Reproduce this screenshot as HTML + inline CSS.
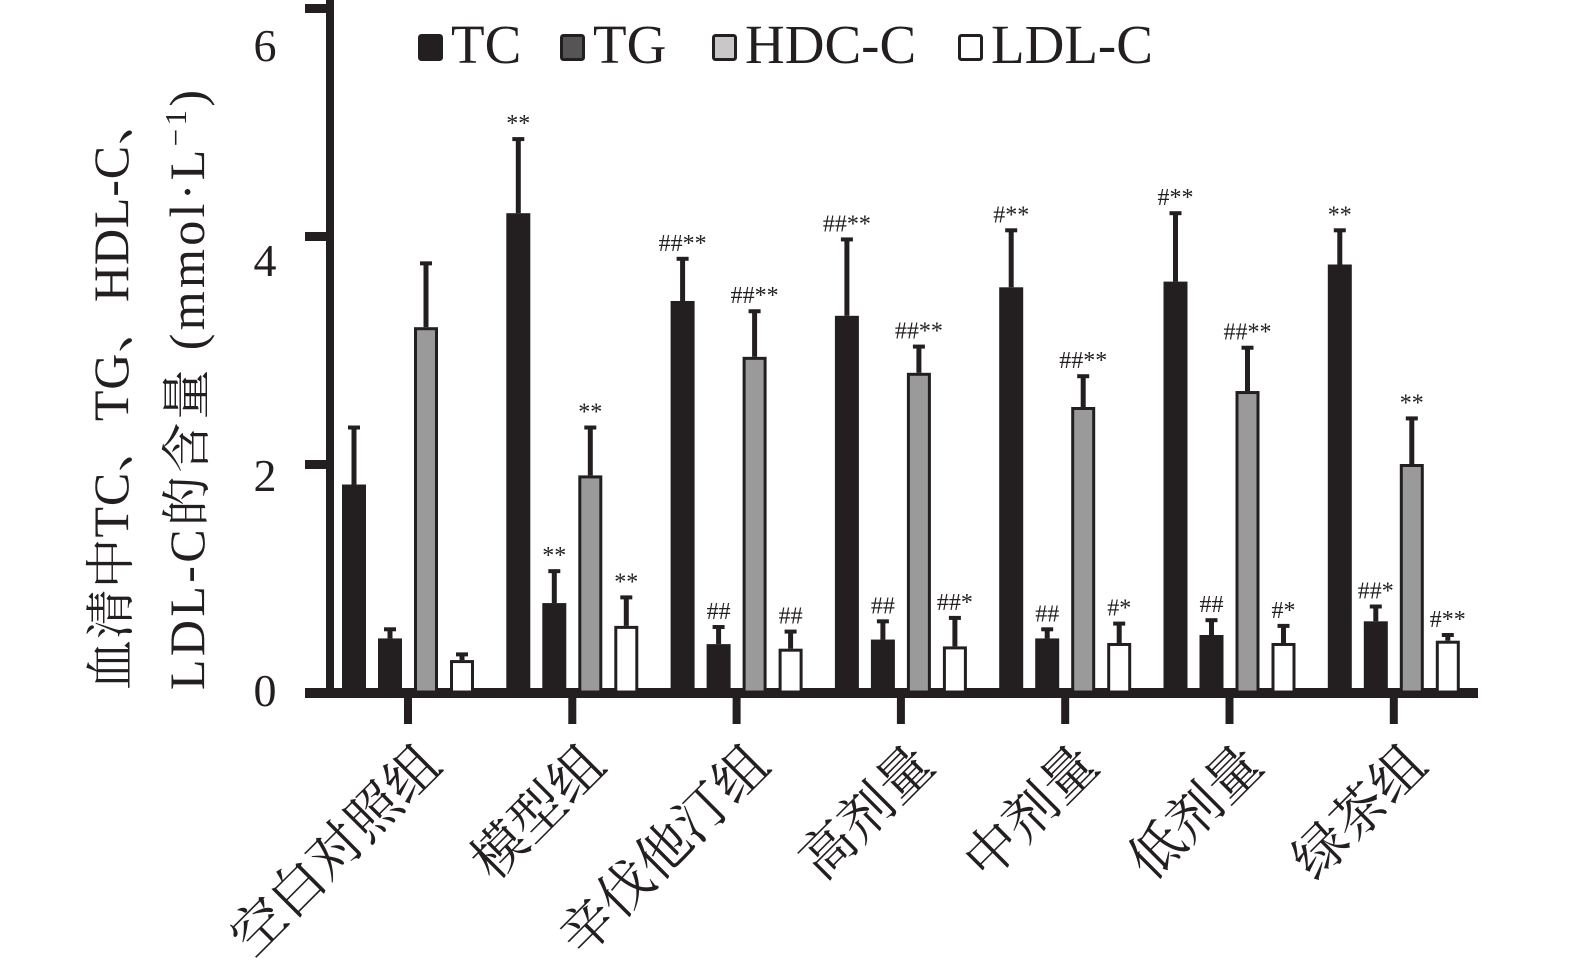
<!DOCTYPE html>
<html><head><meta charset="utf-8"><style>
body{margin:0;background:#fff}
svg{display:block;font-family:"Liberation Serif","Noto Serif CJK SC",serif}
</style></head><body>
<svg id="chart" width="1575" height="978" viewBox="0 0 1575 978" xmlns="http://www.w3.org/2000/svg">
<g id="axes"></g>
<g id="bars"></g>
<g id="legend"></g>
<g font-size="50" fill="#231f20">
<text transform="translate(128,690) rotate(-90)" textLength="595" lengthAdjust="spacing">血清中TC、TG、HDL-C、</text>
<text transform="translate(204,690) rotate(-90)" textLength="600" lengthAdjust="spacing">LDL-C的含量 (mmol·L<tspan font-size="31" dy="-18">−1</tspan><tspan dy="18">)</tspan></text>
</g>
</svg>
<script>
const categories=["空白对照组","模型组","辛伐他汀组","高剂量","中剂量","低剂量","绿茶组"];
const seriesNames=["TC","TG","HDC-C","LDL-C"];
const tcVals=[1.82,4.2,3.43,3.3,3.55,3.6,3.75];
const tcErr=[0.5,0.65,0.37,0.67,0.5,0.6,0.3];
const tgVals=[0.47,0.78,0.42,0.46,0.47,0.5,0.62];
const tgErr=[0.08,0.28,0.15,0.16,0.08,0.13,0.13];
const hdlVals=[3.2,1.9,2.94,2.8,2.5,2.64,2.0];
const hdlErr=[0.56,0.42,0.4,0.23,0.27,0.38,0.4];
const ldlVals=[0.28,0.58,0.38,0.4,0.43,0.43,0.45];
const ldlErr=[0.05,0.25,0.15,0.25,0.17,0.15,0.05];
const tcMarks=["","**","##**","##**","#**","#**","**"];
const tgMarks=["","**","##","##","##","##","##*"];
const hdlMarks=["","**","##**","##**","##**","##**","**"];
const ldlMarks=["","**","##","##*","#*","#*","#**"];
const yTicks=[0,2,4,6];

const NS="http://www.w3.org/2000/svg";
function el(t,a,p,txt){const e=document.createElementNS(NS,t);for(const k in a)e.setAttribute(k,a[k]);if(txt!==undefined)e.textContent=txt;p.appendChild(e);return e;}
const y0=692,pxPer=114;
function yS(v){return y0-v*pxPer;}
function yL(v){return 690-v*107.5;}
const firstX=408,stepX=164.3;
function xS(i){return firstX+i*stepX;}
const offsets=[-54,-18,18,54];
const bw=24;
const axes=document.getElementById('axes');
let a=el('rect',{x:326,y:0,width:8,height:y0+4,fill:'#231f20'},axes);

a=el('rect',{x:305,y:y0-4,width:1173,height:10,fill:'#231f20'},axes);

yTicks.forEach(t=>{
 let r=el('rect',{x:305,y:yS(t)-4,width:26,height:9,fill:'#231f20'},axes);
 
 let tx=el('text',{x:265,y:yL(t)+16,'font-size':46,'text-anchor':'middle',fill:'#231f20'},axes,String(t));
 
});
categories.forEach((c,i)=>{
 let r=el('rect',{x:xS(i)-4,y:y0+4,width:8,height:28,fill:'#231f20'},axes);
 
 let tx=el('text',{transform:`translate(${xS(i)+36},${y0+76}) rotate(-45)`,'font-size':54,'text-anchor':'end',fill:'#231f20'},axes,c);
 
});
const bars=document.getElementById('bars');
const series=[[tcVals,tcErr,tcMarks],[tgVals,tgErr,tgMarks],[hdlVals,hdlErr,hdlMarks],[ldlVals,ldlErr,ldlMarks]];
const fills=['#231f20','#231f20','#9a9a9a','#ffffff'];
series.forEach((s,si)=>{
 s[0].forEach((v,i)=>{
  const cx=xS(i)+offsets[si];
  const top=yS(v),et=yS(v+s[1][i]);
  let ln=el('rect',{x:cx-2.5,y:et,width:5,height:top-et,fill:'#231f20'},bars);
  
  let cap=el('rect',{x:cx-6,y:et-2,width:12,height:4,fill:'#231f20'},bars);
  
  let r=el('rect',{x:cx-bw/2+1.5,y:top+1.5,width:bw-3,height:y0-top-1.5,fill:fills[si],stroke:'#231f20','stroke-width':3},bars);
  
  if(s[2][i]){let t=el('text',{x:cx,y:et-8,'font-size':24,'text-anchor':'middle',fill:'#231f20'},bars,s[2][i]);
   }
 });
});
const lg=document.getElementById('legend');
const lx=[418,560,712,958];
const lf=['#231f20','#555555','#c8c8c8','#ffffff'];
seriesNames.forEach((n,i)=>{
 let r=el('rect',{x:lx[i]+1.5,y:35.5,width:22,height:24,fill:lf[i],stroke:'#231f20','stroke-width':3,rx:2},lg);
 
 let t=el('text',{x:lx[i]+33,y:63,'font-size':55,fill:'#231f20'},lg,n);
 
});
</script>
</body></html>
